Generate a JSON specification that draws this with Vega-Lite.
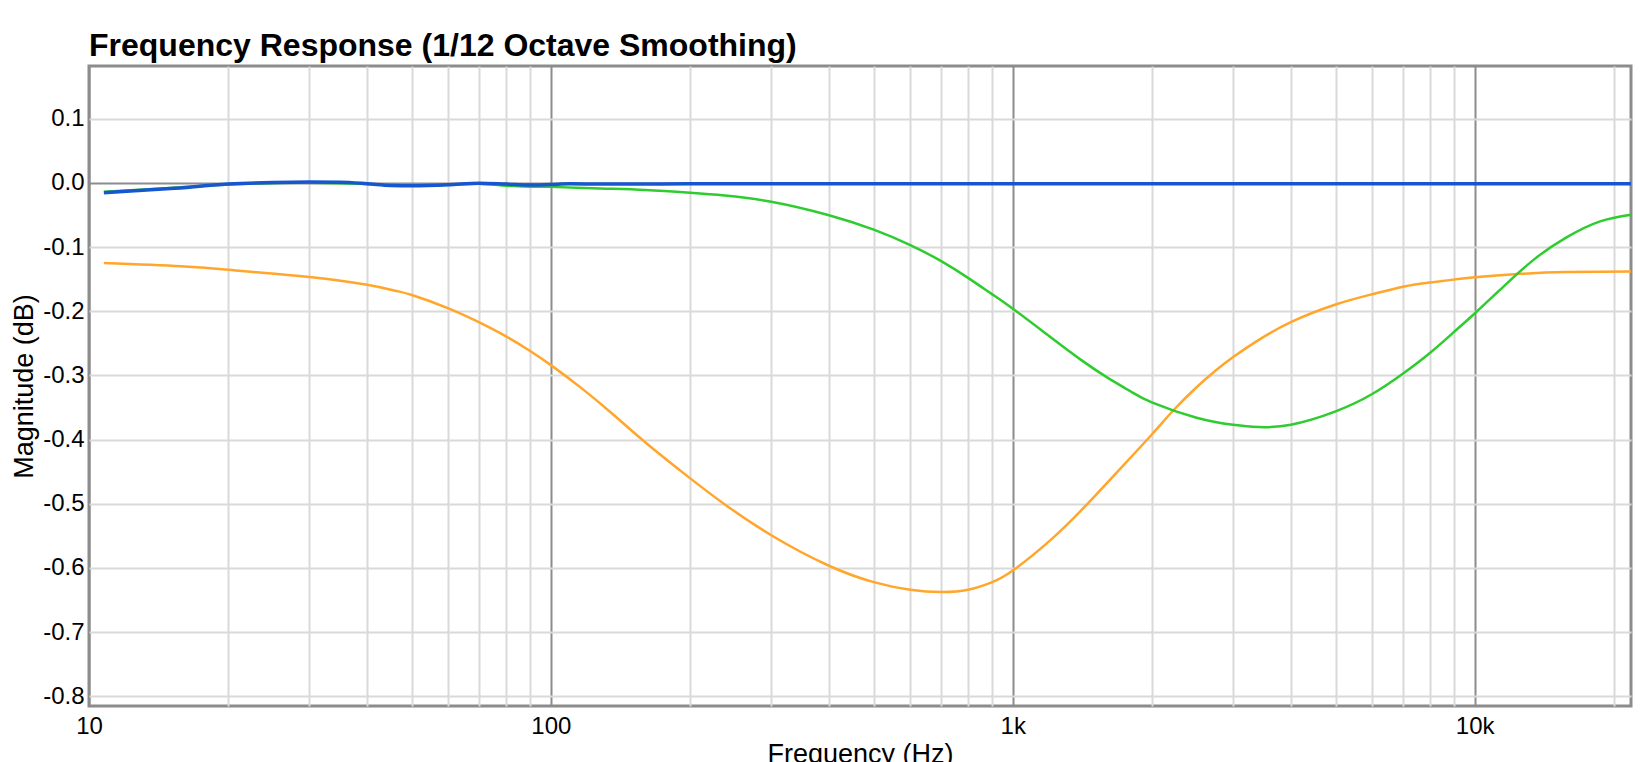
{
  "$schema": "https://vega.github.io/schema/vega-lite/v6.json",
  "width": 1542,
  "height": 640,
  "autosize": {"type": "none"},
  "padding": {"left": 89, "top": 66, "right": 19, "bottom": 56},
  "background": "white",
  "config": {
    "view": {"stroke": "#8c8c8c", "strokeWidth": 3},
    "font": "Liberation Sans"
  },
  "title": {
    "text": "Frequency Response (1/12 Octave Smoothing)",
    "anchor": "start",
    "frame": "group",
    "fontSize": 32,
    "fontWeight": "bold",
    "font": "Liberation Sans",
    "color": "#000000",
    "baseline": "alphabetic",
    "offset": -22
  },
  "data": {
    "values": [
      {"s": "orange", "f": 10.77, "db": -0.125},
      {"s": "orange", "f": 15.8, "db": -0.13},
      {"s": "orange", "f": 20, "db": -0.1354},
      {"s": "orange", "f": 22.7, "db": -0.139},
      {"s": "orange", "f": 30, "db": -0.1468},
      {"s": "orange", "f": 40, "db": -0.1588},
      {"s": "orange", "f": 46, "db": -0.168},
      {"s": "orange", "f": 50, "db": -0.1748},
      {"s": "orange", "f": 60, "db": -0.1955},
      {"s": "orange", "f": 70, "db": -0.2175},
      {"s": "orange", "f": 80, "db": -0.2393},
      {"s": "orange", "f": 90, "db": -0.2615},
      {"s": "orange", "f": 100, "db": -0.284},
      {"s": "orange", "f": 117, "db": -0.321},
      {"s": "orange", "f": 137, "db": -0.362},
      {"s": "orange", "f": 160, "db": -0.404},
      {"s": "orange", "f": 200, "db": -0.46},
      {"s": "orange", "f": 238, "db": -0.501},
      {"s": "orange", "f": 300, "db": -0.549},
      {"s": "orange", "f": 400, "db": -0.5965},
      {"s": "orange", "f": 500, "db": -0.622},
      {"s": "orange", "f": 600, "db": -0.634},
      {"s": "orange", "f": 700, "db": -0.6375},
      {"s": "orange", "f": 800, "db": -0.634},
      {"s": "orange", "f": 900, "db": -0.6225},
      {"s": "orange", "f": 1000, "db": -0.604},
      {"s": "orange", "f": 1205, "db": -0.557},
      {"s": "orange", "f": 1423, "db": -0.5065},
      {"s": "orange", "f": 1690, "db": -0.449},
      {"s": "orange", "f": 2000, "db": -0.392},
      {"s": "orange", "f": 2233, "db": -0.3535},
      {"s": "orange", "f": 2500, "db": -0.3184},
      {"s": "orange", "f": 2750, "db": -0.2923},
      {"s": "orange", "f": 3000, "db": -0.2714},
      {"s": "orange", "f": 3369, "db": -0.2469},
      {"s": "orange", "f": 4000, "db": -0.217},
      {"s": "orange", "f": 5000, "db": -0.1895},
      {"s": "orange", "f": 6000, "db": -0.1735},
      {"s": "orange", "f": 7000, "db": -0.1618},
      {"s": "orange", "f": 8000, "db": -0.1553},
      {"s": "orange", "f": 9000, "db": -0.1508},
      {"s": "orange", "f": 10000, "db": -0.1472},
      {"s": "orange", "f": 12560, "db": -0.1418},
      {"s": "orange", "f": 15800, "db": -0.1388},
      {"s": "orange", "f": 21800, "db": -0.138},
      {"s": "green", "f": 10.77, "db": -0.0139},
      {"s": "green", "f": 15, "db": -0.008},
      {"s": "green", "f": 20, "db": -0.0025},
      {"s": "green", "f": 25, "db": -0.0005},
      {"s": "green", "f": 30, "db": 0.0},
      {"s": "green", "f": 40, "db": -0.002},
      {"s": "green", "f": 50, "db": -0.0045},
      {"s": "green", "f": 60, "db": -0.003},
      {"s": "green", "f": 70, "db": -0.0015},
      {"s": "green", "f": 80, "db": -0.0045},
      {"s": "green", "f": 90, "db": -0.006},
      {"s": "green", "f": 100, "db": -0.0063},
      {"s": "green", "f": 128, "db": -0.0088},
      {"s": "green", "f": 160, "db": -0.0112},
      {"s": "green", "f": 200, "db": -0.0155},
      {"s": "green", "f": 238, "db": -0.0198},
      {"s": "green", "f": 300, "db": -0.0295},
      {"s": "green", "f": 400, "db": -0.0505},
      {"s": "green", "f": 500, "db": -0.073},
      {"s": "green", "f": 600, "db": -0.097},
      {"s": "green", "f": 700, "db": -0.122},
      {"s": "green", "f": 800, "db": -0.148},
      {"s": "green", "f": 900, "db": -0.173},
      {"s": "green", "f": 1000, "db": -0.196},
      {"s": "green", "f": 1200, "db": -0.239},
      {"s": "green", "f": 1400, "db": -0.275},
      {"s": "green", "f": 1600, "db": -0.303},
      {"s": "green", "f": 1800, "db": -0.325},
      {"s": "green", "f": 2000, "db": -0.342},
      {"s": "green", "f": 2500, "db": -0.366},
      {"s": "green", "f": 3000, "db": -0.377},
      {"s": "green", "f": 3400, "db": -0.3805},
      {"s": "green", "f": 4000, "db": -0.3768},
      {"s": "green", "f": 5000, "db": -0.356},
      {"s": "green", "f": 6000, "db": -0.329},
      {"s": "green", "f": 7000, "db": -0.297},
      {"s": "green", "f": 8000, "db": -0.265},
      {"s": "green", "f": 9000, "db": -0.233},
      {"s": "green", "f": 10000, "db": -0.2035},
      {"s": "green", "f": 11357, "db": -0.1665},
      {"s": "green", "f": 13410, "db": -0.12},
      {"s": "green", "f": 15840, "db": -0.0845},
      {"s": "green", "f": 18690, "db": -0.06},
      {"s": "green", "f": 21800, "db": -0.0497},
      {"s": "blue", "f": 10.77, "db": -0.0154},
      {"s": "blue", "f": 15, "db": -0.009},
      {"s": "blue", "f": 20, "db": -0.002},
      {"s": "blue", "f": 25, "db": 0.0005},
      {"s": "blue", "f": 30, "db": 0.0012},
      {"s": "blue", "f": 35, "db": 0.0008},
      {"s": "blue", "f": 40, "db": -0.0014},
      {"s": "blue", "f": 45, "db": -0.004},
      {"s": "blue", "f": 50, "db": -0.0045},
      {"s": "blue", "f": 60, "db": -0.003},
      {"s": "blue", "f": 70, "db": -0.0005},
      {"s": "blue", "f": 80, "db": -0.002},
      {"s": "blue", "f": 90, "db": -0.0035},
      {"s": "blue", "f": 100, "db": -0.0025},
      {"s": "blue", "f": 110, "db": -0.0015},
      {"s": "blue", "f": 128, "db": -0.002},
      {"s": "blue", "f": 150, "db": -0.002},
      {"s": "blue", "f": 200, "db": -0.0015},
      {"s": "blue", "f": 300, "db": -0.0015},
      {"s": "blue", "f": 500, "db": -0.0015},
      {"s": "blue", "f": 1000, "db": -0.0015},
      {"s": "blue", "f": 2000, "db": -0.0015},
      {"s": "blue", "f": 5000, "db": -0.0015},
      {"s": "blue", "f": 10000, "db": -0.0015},
      {"s": "blue", "f": 21800, "db": -0.0015}
    ]
  },
  "encoding": {
    "x": {
      "field": "f",
      "type": "quantitative",
      "scale": {"type": "log", "domain": [10, 21800], "nice": false},
      "axis": {
        "title": "Frequency (Hz)",
        "titleFontSize": 27,
        "titleFontWeight": "normal",
        "titleColor": "#000000",
        "titleFont": "Liberation Sans",
        "titlePadding": 3,
        "values": [10, 20, 30, 40, 50, 60, 70, 80, 90, 100, 200, 300, 400, 500, 600, 700, 800, 900, 1000, 2000, 3000, 4000, 5000, 6000, 7000, 8000, 9000, 10000, 20000],
        "labelExpr": "datum.value == 10 ? '10' : datum.value == 100 ? '100' : datum.value == 1000 ? '1k' : datum.value == 10000 ? '10k' : ''",
        "labelFontSize": 24,
        "labelColor": "#000000",
        "labelFont": "Liberation Sans",
        "labelPadding": 8,
        "labelFlush": false,
        "labelOverlap": false,
        "labelBound": false,
        "ticks": false,
        "domain": false,
        "grid": true,
        "gridWidth": 2,
        "gridColor": {
          "condition": {"test": "datum.value == 10 || datum.value == 100 || datum.value == 1000 || datum.value == 10000", "value": "#8c8c8c"},
          "value": "#d9d9d9"
        }
      }
    },
    "y": {
      "field": "db",
      "type": "quantitative",
      "scale": {"domain": [-0.815, 0.182], "nice": false, "zero": false},
      "axis": {
        "title": "Magnitude (dB)",
        "titleFontSize": 27,
        "titleFontWeight": "normal",
        "titleColor": "#000000",
        "titleFont": "Liberation Sans",
        "titlePadding": 4,
        "values": [-0.8, -0.7, -0.6, -0.5, -0.4, -0.3, -0.2, -0.1, 0, 0.1],
        "labelExpr": "(datum.value < 0 ? '-' : '') + format(abs(datum.value), '.1f')",
        "labelFontSize": 24,
        "labelColor": "#000000",
        "labelFont": "Liberation Sans",
        "labelPadding": 5,
        "labelOverlap": false,
        "ticks": false,
        "domain": false,
        "grid": true,
        "gridWidth": 2,
        "gridColor": {
          "condition": {"test": "datum.value == 0", "value": "#8c8c8c"},
          "value": "#d9d9d9"
        }
      }
    }
  },
  "layer": [
    {
      "transform": [{"filter": "datum.s == 'orange'"}],
      "mark": {"type": "line", "color": "#ffa62b", "strokeWidth": 2.5, "interpolate": "natural"}
    },
    {
      "transform": [{"filter": "datum.s == 'green'"}],
      "mark": {"type": "line", "color": "#2ecc2e", "strokeWidth": 2.5, "interpolate": "natural"}
    },
    {
      "transform": [{"filter": "datum.s == 'blue'"}],
      "mark": {"type": "line", "color": "#1657d0", "strokeWidth": 3.5, "interpolate": "monotone"}
    }
  ]
}
